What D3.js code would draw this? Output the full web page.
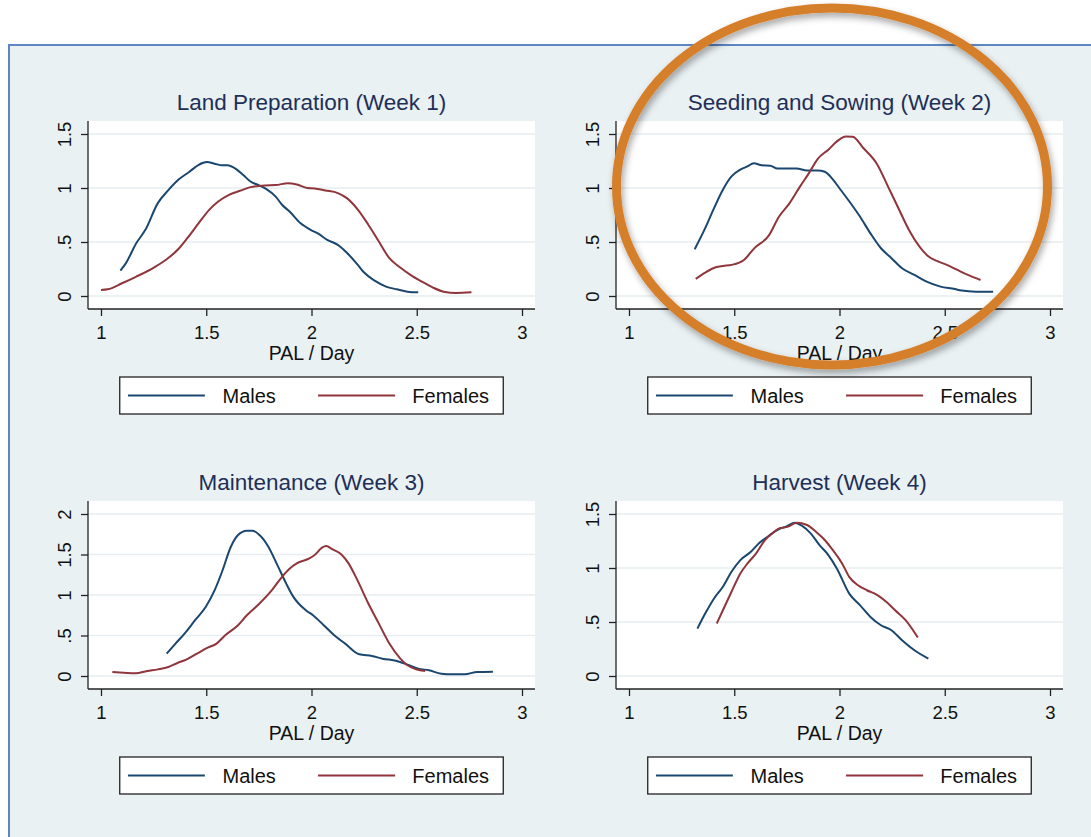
<!DOCTYPE html>
<html>
<head>
<meta charset="utf-8">
<script src="https://cdn.jsdelivr.net/npm/d3@7"></script>
<style>
  html, body { margin: 0; padding: 0; background: #ffffff; }
  svg { display: block; font-family: "Liberation Sans", Arial, sans-serif; }
</style>
</head>
<body>
<svg id="chart" width="1091" height="837"></svg>
<script>
// ---------------- DATA ----------------
const panelTitles = ["Land Preparation (Week 1)", "Seeding and Sowing (Week 2)", "Maintenance (Week 3)", "Harvest (Week 4)"];
const seriesNames = ["Males", "Females"];
const xTicks = [1, 1.5, 2, 2.5, 3];
const xTickLabels = ["1", "1.5", "2", "2.5", "3"];
const yTicksA = [0, 0.5, 1, 1.5];
const yTickLabelsA = ["0", ".5", "1", "1.5"];
const yTicksB = [0, 0.5, 1, 1.5, 2];
const yTickLabelsB = ["0", ".5", "1", "1.5", "2"];
const xAxisTitle = "PAL / Day";

const landMales = [[1.092,0.235],[1.117,0.30],[1.168,0.49],[1.21,0.61],[1.27,0.86],[1.32,0.98],[1.37,1.08],[1.42,1.15],[1.464,1.215],[1.503,1.24],[1.54,1.225],[1.575,1.21],[1.6,1.21],[1.642,1.175],[1.676,1.12],[1.71,1.06],[1.744,1.03],[1.786,0.99],[1.83,0.92],[1.86,0.845],[1.897,0.78],[1.947,0.675],[1.998,0.61],[2.03,0.58],[2.075,0.52],[2.125,0.473],[2.168,0.40],[2.22,0.288],[2.25,0.217],[2.30,0.142],[2.354,0.087],[2.405,0.062],[2.456,0.04],[2.507,0.034]];
const landFemales = [[1.0,0.056],[1.032,0.062],[1.10,0.118],[1.168,0.18],[1.253,0.266],[1.312,0.34],[1.37,0.44],[1.41,0.535],[1.464,0.674],[1.515,0.80],[1.557,0.875],[1.608,0.937],[1.66,0.974],[1.71,1.008],[1.778,1.024],[1.83,1.027],[1.888,1.045],[1.93,1.033],[1.98,1.0],[2.015,0.996],[2.066,0.977],[2.125,0.953],[2.168,0.906],[2.22,0.80],[2.27,0.66],[2.32,0.504],[2.37,0.35],[2.42,0.266],[2.47,0.195],[2.524,0.133],[2.575,0.08],[2.634,0.037],[2.685,0.028],[2.76,0.034]];

const seedMales = [[1.312,0.433],[1.362,0.628],[1.404,0.813],[1.446,0.984],[1.487,1.107],[1.529,1.17],[1.563,1.20],[1.593,1.23],[1.63,1.21],[1.671,1.206],[1.705,1.18],[1.746,1.18],[1.796,1.18],[1.846,1.163],[1.896,1.163],[1.93,1.15],[1.963,1.092],[2.005,0.984],[2.047,0.875],[2.097,0.736],[2.147,0.58],[2.197,0.442],[2.247,0.35],[2.297,0.257],[2.356,0.195],[2.414,0.133],[2.48,0.087],[2.548,0.065],[2.58,0.05],[2.648,0.04],[2.73,0.04]];
const seedFemales = [[1.317,0.158],[1.362,0.217],[1.412,0.266],[1.446,0.278],[1.487,0.288],[1.546,0.334],[1.596,0.443],[1.663,0.557],[1.713,0.736],[1.763,0.86],[1.813,1.015],[1.855,1.138],[1.896,1.268],[1.947,1.355],[1.988,1.432],[2.03,1.478],[2.063,1.475],[2.113,1.37],[2.18,1.216],[2.23,1.015],[2.28,0.813],[2.33,0.612],[2.38,0.458],[2.42,0.371],[2.462,0.325],[2.51,0.288],[2.56,0.241],[2.61,0.195],[2.67,0.148]];

const maintMales = [[1.312,0.276],[1.354,0.40],[1.397,0.524],[1.447,0.689],[1.498,0.854],[1.54,1.06],[1.575,1.287],[1.617,1.596],[1.651,1.74],[1.693,1.794],[1.72,1.794],[1.753,1.74],[1.795,1.596],[1.838,1.369],[1.88,1.14],[1.914,0.977],[1.973,0.812],[2.007,0.75],[2.058,0.627],[2.108,0.503],[2.16,0.40],[2.227,0.268],[2.287,0.247],[2.337,0.214],[2.405,0.186],[2.456,0.14],[2.507,0.091],[2.558,0.07],[2.617,0.029],[2.668,0.021],[2.727,0.021],[2.787,0.05],[2.862,0.054]];
const maintFemales = [[1.054,0.05],[1.108,0.041],[1.164,0.033],[1.219,0.062],[1.27,0.082],[1.32,0.111],[1.363,0.161],[1.405,0.202],[1.456,0.276],[1.507,0.35],[1.549,0.40],[1.59,0.503],[1.651,0.627],[1.693,0.75],[1.753,0.895],[1.812,1.06],[1.86,1.225],[1.897,1.328],[1.93,1.39],[1.99,1.452],[2.015,1.493],[2.05,1.584],[2.07,1.604],[2.1,1.563],[2.142,1.50],[2.176,1.39],[2.218,1.183],[2.27,0.895],[2.32,0.647],[2.37,0.40],[2.422,0.214],[2.456,0.132],[2.497,0.082],[2.54,0.062]];

const harvMales = [[1.325,0.439],[1.362,0.578],[1.404,0.718],[1.446,0.826],[1.487,0.965],[1.529,1.073],[1.579,1.15],[1.62,1.234],[1.663,1.296],[1.713,1.361],[1.746,1.383],[1.788,1.42],[1.821,1.392],[1.863,1.32],[1.905,1.212],[1.947,1.12],[1.988,0.994],[2.047,0.76],[2.097,0.656],[2.147,0.547],[2.197,0.47],[2.247,0.424],[2.297,0.331],[2.356,0.238],[2.422,0.161]];
const harvFemales = [[1.417,0.486],[1.446,0.609],[1.487,0.78],[1.529,0.95],[1.563,1.042],[1.604,1.135],[1.646,1.259],[1.68,1.32],[1.713,1.367],[1.755,1.383],[1.796,1.42],[1.846,1.398],[1.888,1.336],[1.93,1.259],[1.963,1.18],[2.013,1.04],[2.047,0.916],[2.088,0.84],[2.13,0.794],[2.18,0.749],[2.222,0.687],[2.264,0.609],[2.314,0.517],[2.372,0.356]];

// ---------------- LAYOUT / STYLE ----------------
const colors = { males: "#1a476f", females: "#90353b", title: "#1e2f58", bg: "#eaf1f3", border: "#5b87c5", grid: "#e6eef1", ring: "#d67f2c" };
const layouts = [
  { l: 88,  r: 535,  t: 121, b: 309 },
  { l: 616, r: 1063, t: 121, b: 309 },
  { l: 88,  r: 535,  t: 501, b: 689 },
  { l: 616, r: 1063, t: 501, b: 689 }
];
const panels = [
  { title: panelTitles[0], series: [landMales, landFemales], yTicks: yTicksA, yLabels: yTickLabelsA, yMax: 1.5 },
  { title: panelTitles[1], series: [seedMales, seedFemales], yTicks: yTicksA, yLabels: yTickLabelsA, yMax: 1.5 },
  { title: panelTitles[2], series: [maintMales, maintFemales], yTicks: yTicksB, yLabels: yTickLabelsB, yMax: 2 },
  { title: panelTitles[3], series: [harvMales, harvFemales], yTicks: yTicksA, yLabels: yTickLabelsA, yMax: 1.5 }
];

const svg = d3.select("#chart");

// shadow filter for the highlight ring
const defs = svg.append("defs");
const f = defs.append("filter").attr("id", "shadow").attr("x", "-20%").attr("y", "-20%").attr("width", "140%").attr("height", "140%");
f.append("feDropShadow").attr("dx", 2).attr("dy", 4).attr("stdDeviation", 3.5).attr("flood-color", "#000").attr("flood-opacity", 0.35);

// background frame
svg.append("rect").attr("x", 0).attr("y", 0).attr("width", 1091).attr("height", 837).attr("fill", "#ffffff");
svg.append("rect").attr("x", 9).attr("y", 45).attr("width", 1200).attr("height", 900)
  .attr("fill", colors.bg).attr("stroke", colors.border).attr("stroke-width", 2);

const seriesColors = [colors.males, colors.females];

panels.forEach((p, i) => {
  const L = layouts[i];
  const x = d3.scaleLinear().domain([1, 3]).range([L.l + 13, L.r - 13]);
  const y = d3.scaleLinear().domain([0, p.yMax]).range([L.b - 13, L.t + 13]);
  const g = svg.append("g");

  // plot region
  g.append("rect").attr("x", L.l).attr("y", L.t).attr("width", L.r - L.l).attr("height", L.b - L.t).attr("fill", "#ffffff");

  // grid lines
  g.selectAll(".grid").data(p.yTicks).enter().append("line")
    .attr("x1", L.l).attr("x2", L.r).attr("y1", d => y(d)).attr("y2", d => y(d))
    .attr("stroke", colors.grid).attr("stroke-width", 1.5);

  // title
  g.append("text").attr("x", x(2)).attr("y", L.t - 11).attr("text-anchor", "middle")
    .attr("font-size", 22.5).attr("fill", colors.title).text(p.title);

  // curves
  const line = d3.line().x(d => x(d[0])).y(d => y(d[1])).curve(d3.curveMonotoneX);
  p.series.forEach((s, k) => {
    g.append("path").datum(s).attr("d", line).attr("fill", "none")
      .attr("stroke", seriesColors[k]).attr("stroke-width", 2).attr("stroke-linejoin", "round");
  });

  // x axis
  const xAxis = d3.axisBottom(x).tickValues(xTicks).tickFormat((d, j) => xTickLabels[j]).tickSize(7).tickSizeOuter(0).tickPadding(10);
  const xg = g.append("g").attr("transform", `translate(0,${L.b})`).call(xAxis);
  xg.select(".domain").remove();
  xg.append("line").attr("x1", L.l).attr("x2", L.r).attr("y1", 0).attr("y2", 0).attr("stroke", "#222").attr("stroke-width", 1.3);
  xg.selectAll(".tick line").attr("stroke", "#222").attr("stroke-width", 1.3);
  xg.selectAll(".tick text").attr("font-size", 18.5).attr("fill", "#111").attr("font-family", "Liberation Sans, Arial, sans-serif");

  // y axis
  const yAxis = d3.axisLeft(y).tickValues(p.yTicks).tickFormat((d, j) => p.yLabels[j]).tickSize(7).tickSizeOuter(0);
  const yg = g.append("g").attr("transform", `translate(${L.l},0)`).call(yAxis);
  yg.select(".domain").remove();
  yg.append("line").attr("x1", 0).attr("x2", 0).attr("y1", L.t).attr("y2", L.b).attr("stroke", "#222").attr("stroke-width", 1.3);
  yg.selectAll(".tick line").attr("stroke", "#222").attr("stroke-width", 1.3);
  yg.selectAll(".tick text")
    .attr("font-size", 18.5).attr("fill", "#111").attr("font-family", "Liberation Sans, Arial, sans-serif")
    .attr("x", null).attr("dy", null)
    .attr("text-anchor", "middle")
    .attr("transform", "translate(-17.5,0) rotate(-90)");

  // x axis title
  g.append("text").attr("x", x(2)).attr("y", L.b + 51).attr("text-anchor", "middle")
    .attr("font-size", 19.5).attr("fill", "#111").text(xAxisTitle);

  // legend
  const pw = L.r - L.l;
  const bw = pw * 0.858;
  const bx = x(2) - bw / 2;
  const by = L.b + 68, bh = 37;
  const lg = g.append("g");
  lg.append("rect").attr("x", bx).attr("y", by).attr("width", bw).attr("height", bh)
    .attr("fill", "#ffffff").attr("stroke", "#222").attr("stroke-width", 1.3);
  const items = [{ a: 0.0214, b: 0.222, t: 0.268 }, { a: 0.517, b: 0.718, t: 0.763 }];
  items.forEach((it, k) => {
    lg.append("line").attr("x1", bx + bw * it.a).attr("x2", bx + bw * it.b)
      .attr("y1", by + bh / 2).attr("y2", by + bh / 2)
      .attr("stroke", seriesColors[k]).attr("stroke-width", 2);
    lg.append("text").attr("x", bx + bw * it.t).attr("y", by + bh / 2 + 7)
      .attr("font-size", 20).attr("fill", "#111").text(seriesNames[k]);
  });
});

// highlight ring around panel 2
const L2 = layouts[1];
svg.append("ellipse")
  .attr("cx", (L2.l + L2.r) / 2 - 7.5).attr("cy", (L2.t + L2.b) / 2 - 28.5)
  .attr("rx", 215.5).attr("ry", 178.5)
  .attr("fill", "none").attr("stroke", colors.ring).attr("stroke-width", 9)
  .attr("filter", "url(#shadow)");
</script>
</body>
</html>
